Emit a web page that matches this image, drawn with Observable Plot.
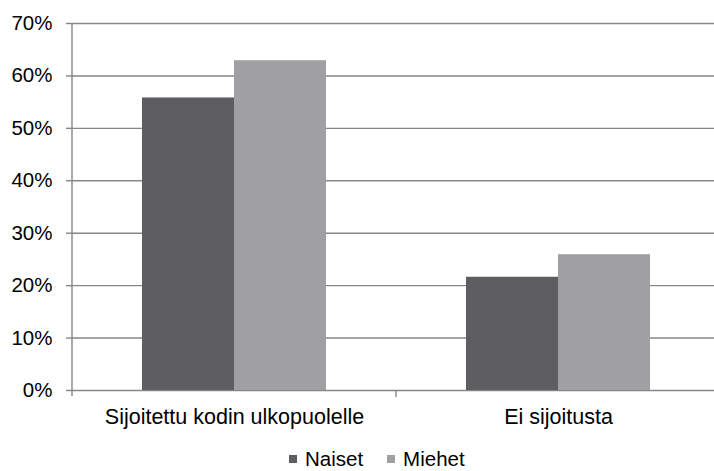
<!DOCTYPE html>
<html>
<head>
<meta charset="utf-8">
<script src="https://cdn.jsdelivr.net/npm/d3@7"></script>
<script src="https://cdn.jsdelivr.net/npm/@observablehq/plot@0.6"></script>
<style>
  html, body { margin: 0; padding: 0; background: #fff; overflow: hidden; }
  body { position: relative; width: 714px; height: 471px; font-family: "Liberation Sans", Arial, sans-serif; }
  #chart svg { max-width: none !important; display: block; }
  #legend { position: absolute; top: 447px; left: 289px; display: flex; align-items: center; font-size: 20.5px; line-height: 24px; color: #000; white-space: nowrap; }
  #legend .item { display: flex; align-items: center; }
  #legend .sw { width: 8px; height: 8px; margin-right: 8px; }
  #legend .item + .item { margin-left: 24px; }
</style>
</head>
<body>
<div id="chart"></div>
<div id="legend"></div>
<script>
const categories = ["Sijoitettu kodin ulkopuolelle", "Ei sijoitusta"];
const seriesNames = ["Naiset", "Miehet"];
const naiset = [0.558, 0.216];
const miehet = [0.629, 0.259];
const yTicks = [0, 0.1, 0.2, 0.3, 0.4, 0.5, 0.6, 0.7];
const colors = ["#5e5e60", "#a0a0a3"];

const data = [];
categories.forEach((c, i) => {
  data.push({category: c, series: seriesNames[0], value: naiset[i]});
  data.push({category: c, series: seriesNames[1], value: miehet[i]});
});

const gridColor = "#868686";

const plot = Plot.plot({
  width: 720,
  height: 440,
  marginLeft: 72,
  marginRight: 0,
  marginTop: 23,
  marginBottom: 50,
  style: {fontFamily: "'Liberation Sans', Arial, sans-serif", color: "#000", background: "#fff", maxWidth: "none"},
  fx: {domain: categories, padding: 0, label: null},
  x: {domain: seriesNames, paddingInner: 0, paddingOuter: 0.76, axis: null},
  y: {domain: [0, 0.7], label: null},
  color: {domain: seriesNames, range: colors},
  marks: [
    Plot.gridY(yTicks, {stroke: gridColor, strokeOpacity: 1, strokeWidth: 1.4}),
    Plot.barY(data, {fx: "category", x: "series", y: "value", fill: "series"}),
    Plot.axisY(yTicks, {tickFormat: d3.format(".0%"), tickSize: 6, tickPadding: 14, stroke: gridColor, strokeWidth: 1.4, fontSize: 20.5, label: null}),
    Plot.axisFx({anchor: "bottom", tickSize: 0, tickPadding: 18, fontSize: 21.5, label: null})
  ]
});

plot.style.maxWidth = "none";
document.getElementById("chart").appendChild(plot);

// axis line and category separator ticks, positioned from the library's scales
const fx = plot.scale("fx");
const y = plot.scale("y");
const g = d3.select(plot).append("g").attr("stroke", gridColor).attr("stroke-width", 1.4);
const y0 = y.apply(0);
const left = fx.apply(categories[0]);
g.append("line").attr("x1", left).attr("x2", left).attr("y1", y.apply(0.7)).attr("y2", y0 + 6);
categories.forEach((c, i) => {
  if (i > 0) {
    const xb = fx.apply(c);
    g.append("line").attr("x1", xb).attr("x2", xb).attr("y1", y0).attr("y2", y0 + 7);
  }
});

// legend
const legend = d3.select("#legend");
seriesNames.forEach((s, i) => {
  const it = legend.append("div").attr("class", "item");
  it.append("div").attr("class", "sw").style("background", colors[i]);
  it.append("span").text(s);
});
</script>
</body>
</html>
